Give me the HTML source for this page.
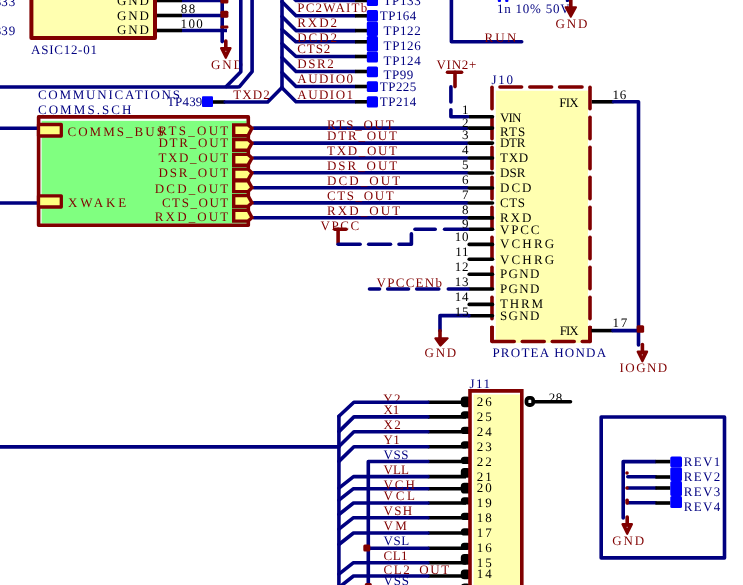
<!DOCTYPE html>
<html><head><meta charset="utf-8"><style>
html,body{margin:0;padding:0;background:#fff;overflow:hidden}
svg{display:block;will-change:transform}
text{font-family:"Liberation Serif",serif;white-space:pre;text-rendering:geometricPrecision}
</style></head><body>
<svg width="743" height="585" viewBox="0 0 743 585">
<rect x="31.40" y="-10.00" width="123.60" height="48.00" fill="#ffffb0"/>
<path d="M31.40,-10.00 L31.40,38.00 L155.00,38.00 L155.00,-10.00" fill="none" stroke="#800000" stroke-width="4" stroke-linecap="butt" stroke-linejoin="round"/>
<path d="M157.00,0.50 L182.00,0.50" fill="none" stroke="#000000" stroke-width="3.6" stroke-linecap="butt" stroke-linejoin="round"/>
<path d="M182.00,0.50 L227.00,0.50" fill="none" stroke="#000080" stroke-width="3.6" stroke-linecap="butt" stroke-linejoin="round"/>
<path d="M157.00,15.50 L182.00,15.50" fill="none" stroke="#000000" stroke-width="3.6" stroke-linecap="butt" stroke-linejoin="round"/>
<path d="M182.00,15.50 L227.00,15.50" fill="none" stroke="#000080" stroke-width="3.6" stroke-linecap="butt" stroke-linejoin="round"/>
<path d="M157.00,30.50 L182.00,30.50" fill="none" stroke="#000000" stroke-width="3.6" stroke-linecap="butt" stroke-linejoin="round"/>
<path d="M182.00,30.50 L227.00,30.50" fill="none" stroke="#000080" stroke-width="3.6" stroke-linecap="butt" stroke-linejoin="round"/>
<path d="M222.20,-5.00 L222.20,41.60" fill="none" stroke="#000080" stroke-width="3.6" stroke-linecap="round" stroke-linejoin="round"/>
<rect x="220.40" y="-2.50" width="8.00" height="6.00" fill="#800000" rx="1.5"/>
<rect x="220.40" y="10.70" width="8.00" height="7.00" fill="#800000" rx="1.5"/>
<rect x="220.40" y="25.50" width="8.00" height="3.00" fill="#800000" rx="1.2"/>
<path d="M225.80,41.00 L225.80,49.00" fill="none" stroke="#800000" stroke-width="3.6" stroke-linecap="round" stroke-linejoin="round"/>
<polygon points="221.10,48.20 230.50,48.20 225.80,57.80" fill="#800000" stroke="#800000" stroke-width="2.2" stroke-linejoin="round"/>
<rect x="225.20" y="50.80" width="1.2" height="1.1" fill="#fff" opacity="0.6"/>
<text x="211.00" y="68.50" fill="#800000" font-size="13" textLength="32.00" lengthAdjust="spacing">GND</text>
<path d="M240.80,-5.00 L240.80,71.70 L226.30,86.40" fill="none" stroke="#000080" stroke-width="3.6" stroke-linecap="round" stroke-linejoin="round"/>
<path d="M252.10,-5.00 L252.10,71.70 L239.50,86.60" fill="none" stroke="#000080" stroke-width="3.6" stroke-linecap="round" stroke-linejoin="round"/>
<path d="M-5.00,87.00 L238.00,87.00" fill="none" stroke="#000080" stroke-width="3.6" stroke-linecap="round" stroke-linejoin="round"/>
<path d="M213.00,102.00 L225.20,102.00" fill="none" stroke="#000000" stroke-width="3.6" stroke-linecap="butt" stroke-linejoin="round"/>
<path d="M225.20,102.00 L267.70,102.00 L282.00,87.50" fill="none" stroke="#000080" stroke-width="3.6" stroke-linecap="round" stroke-linejoin="round"/>
<rect x="202.00" y="96.30" width="11.00" height="10.70" fill="#0000ff" rx="1"/>
<path d="M282.00,-5.00 L282.00,87.50" fill="none" stroke="#000080" stroke-width="3.6" stroke-linecap="round" stroke-linejoin="round"/>
<path d="M282.00,-13.50 L296.00,0.50 L355.00,0.50" fill="none" stroke="#000080" stroke-width="3.6" stroke-linecap="round" stroke-linejoin="round"/>
<path d="M355.00,0.50 L367.00,0.50" fill="none" stroke="#000000" stroke-width="3.6" stroke-linecap="butt" stroke-linejoin="round"/>
<path d="M282.00,1.80 L296.00,15.80 L355.00,15.80" fill="none" stroke="#000080" stroke-width="3.6" stroke-linecap="round" stroke-linejoin="round"/>
<path d="M355.00,15.80 L367.00,15.80" fill="none" stroke="#000000" stroke-width="3.6" stroke-linecap="butt" stroke-linejoin="round"/>
<path d="M282.00,16.60 L296.00,30.60 L355.00,30.60" fill="none" stroke="#000080" stroke-width="3.6" stroke-linecap="round" stroke-linejoin="round"/>
<path d="M355.00,30.60 L367.00,30.60" fill="none" stroke="#000000" stroke-width="3.6" stroke-linecap="butt" stroke-linejoin="round"/>
<path d="M282.00,29.50 L296.00,41.80 L355.00,41.80" fill="none" stroke="#000080" stroke-width="3.6" stroke-linecap="round" stroke-linejoin="round"/>
<path d="M355.00,41.80 L367.00,41.80" fill="none" stroke="#000000" stroke-width="3.6" stroke-linecap="butt" stroke-linejoin="round"/>
<path d="M282.00,43.50 L296.00,56.50 L355.00,56.50" fill="none" stroke="#000080" stroke-width="3.6" stroke-linecap="round" stroke-linejoin="round"/>
<path d="M355.00,56.50 L367.00,56.50" fill="none" stroke="#000000" stroke-width="3.6" stroke-linecap="butt" stroke-linejoin="round"/>
<path d="M282.00,57.50 L296.00,71.50 L355.00,71.50" fill="none" stroke="#000080" stroke-width="3.6" stroke-linecap="round" stroke-linejoin="round"/>
<path d="M355.00,71.50 L367.00,71.50" fill="none" stroke="#000000" stroke-width="3.6" stroke-linecap="butt" stroke-linejoin="round"/>
<path d="M282.00,72.50 L296.00,86.50 L355.00,86.50" fill="none" stroke="#000080" stroke-width="3.6" stroke-linecap="round" stroke-linejoin="round"/>
<path d="M355.00,86.50 L367.00,86.50" fill="none" stroke="#000000" stroke-width="3.6" stroke-linecap="butt" stroke-linejoin="round"/>
<path d="M282.00,87.80 L296.00,101.80 L355.00,101.80" fill="none" stroke="#000080" stroke-width="3.6" stroke-linecap="round" stroke-linejoin="round"/>
<path d="M355.00,101.80 L367.00,101.80" fill="none" stroke="#000000" stroke-width="3.6" stroke-linecap="butt" stroke-linejoin="round"/>
<rect x="366.80" y="-5.00" width="11.20" height="11.00" fill="#0000ff" rx="1.5"/>
<rect x="366.80" y="10.00" width="11.20" height="11.40" fill="#0000ff" rx="1.5"/>
<rect x="366.80" y="21.40" width="11.20" height="14.60" fill="#0000ff" rx="1.5"/>
<rect x="366.80" y="36.00" width="11.20" height="15.40" fill="#0000ff" rx="1.5"/>
<rect x="366.80" y="51.40" width="11.20" height="11.20" fill="#0000ff" rx="1.5"/>
<rect x="366.80" y="66.40" width="11.20" height="10.80" fill="#0000ff" rx="1.5"/>
<rect x="366.80" y="81.30" width="11.20" height="10.70" fill="#0000ff" rx="1.5"/>
<rect x="366.80" y="96.20" width="11.20" height="11.20" fill="#0000ff" rx="1.5"/>
<path d="M451.40,-5.00 L451.40,41.70 L521.70,41.70" fill="none" stroke="#000080" stroke-width="3.6" stroke-linecap="round" stroke-linejoin="round"/>
<rect x="497.80" y="-2.00" width="3.20" height="4.00" fill="#0000ff" rx="1"/>
<rect x="505.20" y="-2.00" width="3.20" height="4.00" fill="#0000ff" rx="1"/>
<rect x="565.80" y="-2.00" width="3.20" height="4.00" fill="#000080" rx="1"/>
<text x="496.90" y="12.50" fill="#000080" font-size="13" textLength="72.80" lengthAdjust="spacing">1n 10% 50V</text>
<path d="M570.80,-3.00 L570.80,8.00" fill="none" stroke="#800000" stroke-width="3.6" stroke-linecap="round" stroke-linejoin="round"/>
<polygon points="565.60,7.20 576.00,7.20 570.80,16.80" fill="#800000" stroke="#800000" stroke-width="2" stroke-linejoin="round"/>
<rect x="41.60" y="120.80" width="204.90" height="102.80" fill="#80ff80"/>
<path d="M38.60,116.90 L248.30,116.90 L248.30,225.30 L38.60,225.30 Z" fill="none" stroke="#800000" stroke-width="3.6" stroke-linecap="butt" stroke-linejoin="round"/>
<path d="M-5.00,128.20 L37.00,128.20" fill="none" stroke="#000080" stroke-width="3.6" stroke-linecap="round" stroke-linejoin="round"/>
<rect x="38.50" y="124.50" width="22.80" height="11.50" fill="#ffff80" stroke="#800000" stroke-width="3.3" stroke-linejoin="round"/>
<path d="M-5.00,203.00 L37.00,203.00" fill="none" stroke="#000080" stroke-width="3.6" stroke-linecap="round" stroke-linejoin="round"/>
<rect x="38.50" y="195.80" width="22.80" height="11.20" fill="#ffff80" stroke="#800000" stroke-width="3.3" stroke-linejoin="round"/>
<path d="M253.70,128.10 L467.50,128.10" fill="none" stroke="#000080" stroke-width="3.6" stroke-linecap="round" stroke-linejoin="round"/>
<path d="M253.70,143.10 L467.50,143.10" fill="none" stroke="#000080" stroke-width="3.6" stroke-linecap="round" stroke-linejoin="round"/>
<path d="M253.70,158.00 L467.50,158.00" fill="none" stroke="#000080" stroke-width="3.6" stroke-linecap="round" stroke-linejoin="round"/>
<path d="M253.70,172.80 L467.50,172.80" fill="none" stroke="#000080" stroke-width="3.6" stroke-linecap="round" stroke-linejoin="round"/>
<path d="M253.70,187.70 L467.50,187.70" fill="none" stroke="#000080" stroke-width="3.6" stroke-linecap="round" stroke-linejoin="round"/>
<path d="M253.70,202.90 L467.50,202.90" fill="none" stroke="#000080" stroke-width="3.6" stroke-linecap="round" stroke-linejoin="round"/>
<path d="M253.70,217.70 L467.50,217.70" fill="none" stroke="#000080" stroke-width="3.6" stroke-linecap="round" stroke-linejoin="round"/>
<polygon points="233.70,124.90 248.00,124.90 252.00,128.10 248.00,135.70 233.70,135.70" fill="#ffff80" stroke="#800000" stroke-width="3.4" stroke-linejoin="miter"/>
<polygon points="233.70,139.50 248.00,139.50 252.00,143.10 248.00,150.30 233.70,150.30" fill="#ffff80" stroke="#800000" stroke-width="3.4" stroke-linejoin="miter"/>
<polygon points="233.70,154.40 248.00,154.40 252.00,158.00 248.00,165.20 233.70,165.20" fill="#ffff80" stroke="#800000" stroke-width="3.4" stroke-linejoin="miter"/>
<polygon points="233.70,169.10 248.00,169.10 252.00,172.80 248.00,179.90 233.70,179.90" fill="#ffff80" stroke="#800000" stroke-width="3.4" stroke-linejoin="miter"/>
<polygon points="233.70,180.80 248.00,180.80 252.00,187.70 248.00,191.60 233.70,191.60" fill="#ffff80" stroke="#800000" stroke-width="3.4" stroke-linejoin="miter"/>
<polygon points="233.70,195.60 248.00,195.60 252.00,202.90 248.00,206.40 233.70,206.40" fill="#ffff80" stroke="#800000" stroke-width="3.4" stroke-linejoin="miter"/>
<polygon points="233.70,210.30 248.00,210.30 252.00,217.70 248.00,221.10 233.70,221.10" fill="#ffff80" stroke="#800000" stroke-width="3.4" stroke-linejoin="miter"/>
<rect x="495.80" y="90.70" width="92.20" height="252.10" fill="#ffffb0"/>
<path d="M492.00,87.30 L492.00,108.70" fill="none" stroke="#800000" stroke-width="3.6" stroke-linecap="round" stroke-linejoin="round"/>
<path d="M590.00,87.30 L590.00,108.70" fill="none" stroke="#800000" stroke-width="3.6" stroke-linecap="round" stroke-linejoin="round"/>
<path d="M492.00,117.30 L492.00,138.70" fill="none" stroke="#800000" stroke-width="3.6" stroke-linecap="round" stroke-linejoin="round"/>
<path d="M590.00,117.30 L590.00,138.70" fill="none" stroke="#800000" stroke-width="3.6" stroke-linecap="round" stroke-linejoin="round"/>
<path d="M492.00,147.30 L492.00,168.70" fill="none" stroke="#800000" stroke-width="3.6" stroke-linecap="round" stroke-linejoin="round"/>
<path d="M590.00,147.30 L590.00,168.70" fill="none" stroke="#800000" stroke-width="3.6" stroke-linecap="round" stroke-linejoin="round"/>
<path d="M492.00,177.30 L492.00,198.70" fill="none" stroke="#800000" stroke-width="3.6" stroke-linecap="round" stroke-linejoin="round"/>
<path d="M590.00,177.30 L590.00,198.70" fill="none" stroke="#800000" stroke-width="3.6" stroke-linecap="round" stroke-linejoin="round"/>
<path d="M492.00,207.30 L492.00,228.70" fill="none" stroke="#800000" stroke-width="3.6" stroke-linecap="round" stroke-linejoin="round"/>
<path d="M590.00,207.30 L590.00,228.70" fill="none" stroke="#800000" stroke-width="3.6" stroke-linecap="round" stroke-linejoin="round"/>
<path d="M492.00,237.30 L492.00,258.70" fill="none" stroke="#800000" stroke-width="3.6" stroke-linecap="round" stroke-linejoin="round"/>
<path d="M590.00,237.30 L590.00,258.70" fill="none" stroke="#800000" stroke-width="3.6" stroke-linecap="round" stroke-linejoin="round"/>
<path d="M492.00,267.30 L492.00,288.70" fill="none" stroke="#800000" stroke-width="3.6" stroke-linecap="round" stroke-linejoin="round"/>
<path d="M590.00,267.30 L590.00,288.70" fill="none" stroke="#800000" stroke-width="3.6" stroke-linecap="round" stroke-linejoin="round"/>
<path d="M492.00,297.30 L492.00,318.70" fill="none" stroke="#800000" stroke-width="3.6" stroke-linecap="round" stroke-linejoin="round"/>
<path d="M590.00,297.30 L590.00,318.70" fill="none" stroke="#800000" stroke-width="3.6" stroke-linecap="round" stroke-linejoin="round"/>
<path d="M492.00,327.30 L492.00,341.50" fill="none" stroke="#800000" stroke-width="3.6" stroke-linecap="round" stroke-linejoin="round"/>
<path d="M590.00,327.30 L590.00,341.50" fill="none" stroke="#800000" stroke-width="3.6" stroke-linecap="round" stroke-linejoin="round"/>
<path d="M492.30,341.50 L514.20,341.50" fill="none" stroke="#800000" stroke-width="3.6" stroke-linecap="round" stroke-linejoin="round"/>
<path d="M522.30,341.50 L544.20,341.50" fill="none" stroke="#800000" stroke-width="3.6" stroke-linecap="round" stroke-linejoin="round"/>
<path d="M552.30,341.50 L574.20,341.50" fill="none" stroke="#800000" stroke-width="3.6" stroke-linecap="round" stroke-linejoin="round"/>
<path d="M582.30,341.50 L590.00,341.50" fill="none" stroke="#800000" stroke-width="3.6" stroke-linecap="round" stroke-linejoin="round"/>
<path d="M492.00,341.50 L492.00,326.00" fill="none" stroke="#800000" stroke-width="3.6" stroke-linecap="butt" stroke-linejoin="round"/>
<path d="M590.00,341.50 L590.00,326.00" fill="none" stroke="#800000" stroke-width="3.6" stroke-linecap="butt" stroke-linejoin="round"/>
<path d="M500.00,87.00 L521.60,87.00" fill="none" stroke="#800000" stroke-width="3.6" stroke-linecap="round" stroke-linejoin="round"/>
<path d="M529.80,87.00 L551.60,87.00" fill="none" stroke="#800000" stroke-width="3.6" stroke-linecap="round" stroke-linejoin="round"/>
<path d="M559.60,87.00 L582.00,87.00" fill="none" stroke="#800000" stroke-width="3.6" stroke-linecap="round" stroke-linejoin="round"/>
<path d="M469.20,116.70 L492.50,116.70" fill="none" stroke="#000000" stroke-width="3.6" stroke-linecap="round" stroke-linejoin="round"/>
<path d="M469.20,128.10 L492.50,128.10" fill="none" stroke="#000000" stroke-width="3.6" stroke-linecap="round" stroke-linejoin="round"/>
<path d="M469.20,143.10 L492.50,143.10" fill="none" stroke="#000000" stroke-width="3.6" stroke-linecap="round" stroke-linejoin="round"/>
<path d="M469.20,158.00 L492.50,158.00" fill="none" stroke="#000000" stroke-width="3.6" stroke-linecap="round" stroke-linejoin="round"/>
<path d="M469.20,173.00 L492.50,173.00" fill="none" stroke="#000000" stroke-width="3.6" stroke-linecap="round" stroke-linejoin="round"/>
<path d="M469.20,188.00 L492.50,188.00" fill="none" stroke="#000000" stroke-width="3.6" stroke-linecap="round" stroke-linejoin="round"/>
<path d="M469.20,203.00 L492.50,203.00" fill="none" stroke="#000000" stroke-width="3.6" stroke-linecap="round" stroke-linejoin="round"/>
<path d="M469.20,217.90 L492.50,217.90" fill="none" stroke="#000000" stroke-width="3.6" stroke-linecap="round" stroke-linejoin="round"/>
<path d="M469.20,229.30 L492.50,229.30" fill="none" stroke="#000000" stroke-width="3.6" stroke-linecap="round" stroke-linejoin="round"/>
<path d="M469.20,244.40 L492.50,244.40" fill="none" stroke="#000000" stroke-width="3.6" stroke-linecap="round" stroke-linejoin="round"/>
<path d="M469.20,259.20 L492.50,259.20" fill="none" stroke="#000000" stroke-width="3.6" stroke-linecap="round" stroke-linejoin="round"/>
<path d="M469.20,274.20 L492.50,274.20" fill="none" stroke="#000000" stroke-width="3.6" stroke-linecap="round" stroke-linejoin="round"/>
<path d="M469.20,289.00 L492.50,289.00" fill="none" stroke="#000000" stroke-width="3.6" stroke-linecap="round" stroke-linejoin="round"/>
<path d="M469.20,304.40 L492.50,304.40" fill="none" stroke="#000000" stroke-width="3.6" stroke-linecap="round" stroke-linejoin="round"/>
<path d="M469.20,315.70 L492.50,315.70" fill="none" stroke="#000000" stroke-width="3.6" stroke-linecap="round" stroke-linejoin="round"/>
<path d="M447.50,72.20 L461.60,72.20" fill="none" stroke="#800000" stroke-width="3.6" stroke-linecap="round" stroke-linejoin="round"/>
<path d="M455.00,72.20 L455.00,86.60" fill="none" stroke="#800000" stroke-width="3.6" stroke-linecap="round" stroke-linejoin="round"/>
<path d="M450.90,86.90 L450.90,101.90" fill="none" stroke="#000080" stroke-width="3.6" stroke-linecap="round" stroke-linejoin="round"/>
<path d="M450.90,109.70 L450.90,116.70 L467.50,116.70" fill="none" stroke="#000080" stroke-width="3.6" stroke-linecap="round" stroke-linejoin="round"/>
<path d="M334.70,229.20 L346.00,229.20" fill="none" stroke="#800000" stroke-width="3.6" stroke-linecap="round" stroke-linejoin="round"/>
<path d="M338.10,229.20 L338.10,243.00" fill="none" stroke="#800000" stroke-width="3.6" stroke-linecap="round" stroke-linejoin="round"/>
<path d="M338.10,244.30 L360.10,244.30" fill="none" stroke="#000080" stroke-width="3.6" stroke-linecap="round" stroke-linejoin="round"/>
<path d="M368.70,244.30 L390.50,244.30" fill="none" stroke="#000080" stroke-width="3.6" stroke-linecap="round" stroke-linejoin="round"/>
<path d="M399.00,244.30 L411.40,244.30 L411.40,233.90" fill="none" stroke="#000080" stroke-width="3.6" stroke-linecap="round" stroke-linejoin="round"/>
<path d="M415.00,229.20 L435.20,229.20" fill="none" stroke="#000080" stroke-width="3.6" stroke-linecap="round" stroke-linejoin="round"/>
<path d="M444.60,229.20 L467.50,229.20" fill="none" stroke="#000080" stroke-width="3.6" stroke-linecap="round" stroke-linejoin="round"/>
<path d="M369.50,289.00 L379.50,289.00" fill="none" stroke="#000080" stroke-width="3.6" stroke-linecap="round" stroke-linejoin="round"/>
<path d="M387.70,289.00 L408.50,289.00" fill="none" stroke="#000080" stroke-width="3.6" stroke-linecap="round" stroke-linejoin="round"/>
<path d="M416.70,289.00 L438.80,289.00" fill="none" stroke="#000080" stroke-width="3.6" stroke-linecap="round" stroke-linejoin="round"/>
<path d="M448.30,289.00 L468.00,289.00" fill="none" stroke="#000080" stroke-width="3.6" stroke-linecap="round" stroke-linejoin="round"/>
<path d="M469.00,315.60 L440.00,315.60 L440.00,330.80" fill="none" stroke="#000080" stroke-width="3.6" stroke-linecap="round" stroke-linejoin="round"/>
<path d="M440.00,330.80 L440.00,338.00" fill="none" stroke="#800000" stroke-width="3.6" stroke-linecap="round" stroke-linejoin="round"/>
<polygon points="435.40,338.30 447.60,338.30 440.50,345.50" fill="#800000" stroke="#800000" stroke-width="2.2" stroke-linejoin="round"/>
<path d="M591.80,101.80 L613.50,101.80" fill="none" stroke="#000000" stroke-width="3.6" stroke-linecap="butt" stroke-linejoin="round"/>
<path d="M613.50,101.80 L638.50,101.80 L638.50,345.00" fill="none" stroke="#000080" stroke-width="3.6" stroke-linecap="round" stroke-linejoin="round"/>
<path d="M591.40,330.60 L613.00,330.60" fill="none" stroke="#000000" stroke-width="3.6" stroke-linecap="butt" stroke-linejoin="round"/>
<path d="M613.00,330.60 L638.50,330.60" fill="none" stroke="#000080" stroke-width="3.6" stroke-linecap="round" stroke-linejoin="round"/>
<rect x="636.65" y="325.35" width="7.50" height="7.50" fill="#800000" rx="1.5"/>
<path d="M642.40,344.50 L642.40,352.50" fill="none" stroke="#800000" stroke-width="3.6" stroke-linecap="round" stroke-linejoin="round"/>
<polygon points="637.70,351.70 647.10,351.70 642.40,361.30" fill="#800000" stroke="#800000" stroke-width="2.2" stroke-linejoin="round"/>
<rect x="641.80" y="354.30" width="1.2" height="1.1" fill="#fff" opacity="0.6"/>
<text x="383.20" y="402.60" fill="#800000" font-size="13" textLength="17.20" lengthAdjust="spacing">Y2</text>
<text x="383.50" y="573.70" fill="#800000" font-size="13" textLength="65.60" lengthAdjust="spacing">CL2_OUT</text>
<rect x="473.60" y="394.50" width="46.70" height="205.50" fill="#ffffb0"/>
<path d="M427.90,402.20 L466.00,402.20" fill="none" stroke="#000000" stroke-width="3.6" stroke-linecap="butt" stroke-linejoin="round"/>
<path d="M427.90,416.90 L466.00,416.90" fill="none" stroke="#000000" stroke-width="3.6" stroke-linecap="butt" stroke-linejoin="round"/>
<path d="M427.90,431.80 L466.00,431.80" fill="none" stroke="#000000" stroke-width="3.6" stroke-linecap="butt" stroke-linejoin="round"/>
<path d="M427.90,446.70 L466.00,446.70" fill="none" stroke="#000000" stroke-width="3.6" stroke-linecap="butt" stroke-linejoin="round"/>
<path d="M427.90,461.50 L466.00,461.50" fill="none" stroke="#000000" stroke-width="3.6" stroke-linecap="butt" stroke-linejoin="round"/>
<path d="M427.90,476.60 L466.00,476.60" fill="none" stroke="#000000" stroke-width="3.6" stroke-linecap="butt" stroke-linejoin="round"/>
<path d="M427.90,488.70 L466.00,488.70" fill="none" stroke="#000000" stroke-width="3.6" stroke-linecap="butt" stroke-linejoin="round"/>
<path d="M427.90,503.00 L466.00,503.00" fill="none" stroke="#000000" stroke-width="3.6" stroke-linecap="butt" stroke-linejoin="round"/>
<path d="M427.90,517.70 L466.00,517.70" fill="none" stroke="#000000" stroke-width="3.6" stroke-linecap="butt" stroke-linejoin="round"/>
<path d="M427.90,533.00 L466.00,533.00" fill="none" stroke="#000000" stroke-width="3.6" stroke-linecap="butt" stroke-linejoin="round"/>
<path d="M427.90,548.20 L466.00,548.20" fill="none" stroke="#000000" stroke-width="3.6" stroke-linecap="butt" stroke-linejoin="round"/>
<path d="M427.90,562.70 L466.00,562.70" fill="none" stroke="#000000" stroke-width="3.6" stroke-linecap="butt" stroke-linejoin="round"/>
<path d="M427.90,576.00 L466.00,576.00" fill="none" stroke="#000000" stroke-width="3.6" stroke-linecap="butt" stroke-linejoin="round"/>
<rect x="460.8" y="396.60" width="10" height="10.60" rx="3.6" ry="3.6" fill="#000000"/>
<rect x="460.8" y="411.20" width="10" height="7.30" rx="3.6" ry="3.6" fill="#000000"/>
<rect x="460.8" y="426.70" width="10" height="7.30" rx="3.6" ry="3.6" fill="#000000"/>
<rect x="460.8" y="441.30" width="10" height="7.30" rx="3.6" ry="3.6" fill="#000000"/>
<rect x="460.8" y="456.70" width="10" height="7.30" rx="3.6" ry="3.6" fill="#000000"/>
<rect x="460.8" y="468.10" width="10" height="9.70" rx="3.6" ry="3.6" fill="#000000"/>
<rect x="460.8" y="482.70" width="10" height="10.80" rx="3.6" ry="3.6" fill="#000000"/>
<rect x="460.8" y="497.30" width="10" height="7.30" rx="3.6" ry="3.6" fill="#000000"/>
<rect x="460.8" y="512.70" width="10" height="7.30" rx="3.6" ry="3.6" fill="#000000"/>
<rect x="460.8" y="528.20" width="10" height="7.30" rx="3.6" ry="3.6" fill="#000000"/>
<rect x="460.8" y="542.80" width="10" height="7.30" rx="3.6" ry="3.6" fill="#000000"/>
<rect x="460.8" y="554.10" width="10" height="10.60" rx="3.6" ry="3.6" fill="#000000"/>
<rect x="460.8" y="569.60" width="10" height="9.70" rx="3.6" ry="3.6" fill="#000000"/>
<rect x="460.8" y="583.40" width="10" height="8.60" rx="3.6" ry="3.6" fill="#000000"/>
<path d="M470.00,600.00 L470.00,390.90 L521.80,390.90 L521.80,600.00" fill="none" stroke="#800000" stroke-width="3.6" stroke-linecap="butt" stroke-linejoin="miter"/>
<path d="M338.90,416.20 L353.90,402.20 L427.90,402.20" fill="none" stroke="#000080" stroke-width="3.6" stroke-linecap="round" stroke-linejoin="round"/>
<path d="M338.90,431.60 L353.90,416.90 L427.90,416.90" fill="none" stroke="#000080" stroke-width="3.6" stroke-linecap="round" stroke-linejoin="round"/>
<path d="M338.90,446.50 L353.90,431.80 L427.90,431.80" fill="none" stroke="#000080" stroke-width="3.6" stroke-linecap="round" stroke-linejoin="round"/>
<path d="M338.90,461.40 L353.90,446.70 L427.90,446.70" fill="none" stroke="#000080" stroke-width="3.6" stroke-linecap="round" stroke-linejoin="round"/>
<path d="M338.90,416.20 L338.90,600.00" fill="none" stroke="#000080" stroke-width="3.6" stroke-linecap="round" stroke-linejoin="round"/>
<path d="M-5.00,446.90 L338.90,446.90" fill="none" stroke="#000080" stroke-width="3.6" stroke-linecap="round" stroke-linejoin="round"/>
<path d="M368.30,600.00 L368.30,461.50 L427.90,461.50" fill="none" stroke="#000080" stroke-width="3.6" stroke-linecap="round" stroke-linejoin="round"/>
<path d="M338.90,488.10 L353.50,476.60 L427.90,476.60" fill="none" stroke="#000080" stroke-width="3.6" stroke-linecap="round" stroke-linejoin="round"/>
<path d="M338.90,500.20 L353.50,488.70 L427.90,488.70" fill="none" stroke="#000080" stroke-width="3.6" stroke-linecap="round" stroke-linejoin="round"/>
<path d="M338.90,514.50 L353.50,503.00 L427.90,503.00" fill="none" stroke="#000080" stroke-width="3.6" stroke-linecap="round" stroke-linejoin="round"/>
<path d="M338.90,529.20 L353.50,517.70 L427.90,517.70" fill="none" stroke="#000080" stroke-width="3.6" stroke-linecap="round" stroke-linejoin="round"/>
<path d="M338.90,544.50 L353.50,533.00 L427.90,533.00" fill="none" stroke="#000080" stroke-width="3.6" stroke-linecap="round" stroke-linejoin="round"/>
<path d="M338.90,574.20 L353.50,562.70 L427.90,562.70" fill="none" stroke="#000080" stroke-width="3.6" stroke-linecap="round" stroke-linejoin="round"/>
<path d="M338.90,587.50 L353.50,576.00 L427.90,576.00" fill="none" stroke="#000080" stroke-width="3.6" stroke-linecap="round" stroke-linejoin="round"/>
<path d="M368.30,548.20 L427.90,548.20" fill="none" stroke="#000080" stroke-width="3.6" stroke-linecap="round" stroke-linejoin="round"/>
<rect x="363.30" y="544.50" width="7.00" height="7.00" fill="#800000" rx="1.5"/>
<rect x="364.80" y="583.00" width="7.00" height="6.00" fill="#800000" rx="1.5"/>
<rect x="526.5" y="397.8" width="6.7" height="7.2" rx="2.6" fill="none" stroke="#000000" stroke-width="3.8"/>
<path d="M535.00,401.70 L570.50,401.70" fill="none" stroke="#000000" stroke-width="3.6" stroke-linecap="round" stroke-linejoin="round"/>
<path d="M601.20,417.00 L724.50,417.00 L724.50,557.90 L601.20,557.90 Z" fill="none" stroke="#000080" stroke-width="3.6" stroke-linecap="butt" stroke-linejoin="round"/>
<path d="M623.20,518.00 L623.20,461.60 L655.40,461.60" fill="none" stroke="#000080" stroke-width="3.6" stroke-linecap="round" stroke-linejoin="round"/>
<path d="M627.80,476.80 L655.40,476.80" fill="none" stroke="#000080" stroke-width="3.6" stroke-linecap="round" stroke-linejoin="round"/>
<path d="M627.80,488.00 L655.40,488.00" fill="none" stroke="#000080" stroke-width="3.6" stroke-linecap="round" stroke-linejoin="round"/>
<path d="M627.80,502.80 L655.40,502.80" fill="none" stroke="#000080" stroke-width="3.6" stroke-linecap="round" stroke-linejoin="round"/>
<path d="M655.40,461.60 L670.30,461.60" fill="none" stroke="#000000" stroke-width="3.6" stroke-linecap="butt" stroke-linejoin="round"/>
<path d="M655.40,477.00 L670.30,477.00" fill="none" stroke="#000000" stroke-width="3.6" stroke-linecap="butt" stroke-linejoin="round"/>
<path d="M655.40,488.00 L670.30,488.00" fill="none" stroke="#000000" stroke-width="3.6" stroke-linecap="butt" stroke-linejoin="round"/>
<path d="M655.40,503.00 L670.30,503.00" fill="none" stroke="#000000" stroke-width="3.6" stroke-linecap="butt" stroke-linejoin="round"/>
<rect x="670.30" y="456.50" width="11.70" height="10.80" fill="#0000ff" rx="1.5"/>
<rect x="670.30" y="467.30" width="11.70" height="13.80" fill="#0000ff" rx="1.5"/>
<rect x="670.30" y="481.10" width="11.70" height="14.90" fill="#0000ff" rx="1.5"/>
<rect x="670.30" y="496.00" width="11.70" height="12.10" fill="#0000ff" rx="1.5"/>
<circle cx="627" cy="473" r="1.8" fill="#800000"/>
<circle cx="627" cy="488" r="1.8" fill="#800000"/>
<rect x="625.30" y="498.60" width="3.60" height="6.10" fill="#800000" rx="1.6"/>
<path d="M627.20,517.00 L627.20,525.00" fill="none" stroke="#800000" stroke-width="3.6" stroke-linecap="round" stroke-linejoin="round"/>
<polygon points="622.50,524.20 631.90,524.20 627.20,533.80" fill="#800000" stroke="#800000" stroke-width="2.2" stroke-linejoin="round"/>
<rect x="626.60" y="526.80" width="1.2" height="1.1" fill="#fff" opacity="0.6"/>
<text x="1.30" y="5.50" fill="#000080" font-size="13" textLength="14.00" lengthAdjust="spacing">33</text>
<text x="-5.30" y="5.50" fill="#000080" font-size="13">3</text>
<text x="1.30" y="35.10" fill="#000080" font-size="13" textLength="14.00" lengthAdjust="spacing">39</text>
<text x="-5.30" y="35.10" fill="#000080" font-size="13">3</text>
<text x="117.00" y="5.40" fill="#000000" font-size="13" textLength="32.00" lengthAdjust="spacing">GND</text>
<text x="117.00" y="20.20" fill="#000000" font-size="13" textLength="32.00" lengthAdjust="spacing">GND</text>
<text x="117.00" y="34.30" fill="#000000" font-size="13" textLength="32.00" lengthAdjust="spacing">GND</text>
<text x="31.10" y="54.30" fill="#000080" font-size="13" textLength="65.80" lengthAdjust="spacing">ASIC12-01</text>
<text x="180.70" y="12.50" fill="#000000" font-size="13" textLength="14.60" lengthAdjust="spacing">88</text>
<text x="180.50" y="27.70" fill="#000000" font-size="13" textLength="22.30" lengthAdjust="spacing">100</text>
<text x="37.90" y="99.30" fill="#000080" font-size="13" textLength="142.10" lengthAdjust="spacing">COMMUNICATIONS</text>
<text x="37.90" y="113.60" fill="#000080" font-size="13" textLength="93.60" lengthAdjust="spacing">COMMS.SCH</text>
<text x="167.00" y="105.70" fill="#000080" font-size="13" textLength="35.30" lengthAdjust="spacing">TP439</text>
<text x="233.30" y="99.10" fill="#800000" font-size="13" textLength="36.50" lengthAdjust="spacing">TXD2</text>
<text x="297.20" y="12.10" fill="#800000" font-size="13" textLength="70.10" lengthAdjust="spacing">PC2WAITb</text>
<text x="297.20" y="26.90" fill="#800000" font-size="13" textLength="39.80" lengthAdjust="spacing">RXD2</text>
<text x="297.20" y="41.70" fill="#800000" font-size="13" textLength="39.80" lengthAdjust="spacing">DCD2</text>
<text x="297.20" y="53.20" fill="#800000" font-size="13" textLength="33.10" lengthAdjust="spacing">CTS2</text>
<text x="297.20" y="68.00" fill="#800000" font-size="13" textLength="36.50" lengthAdjust="spacing">DSR2</text>
<text x="297.30" y="83.20" fill="#800000" font-size="13" textLength="55.70" lengthAdjust="spacing">AUDIO0</text>
<text x="297.30" y="98.50" fill="#800000" font-size="13" textLength="55.70" lengthAdjust="spacing">AUDIO1</text>
<text x="383.50" y="4.50" fill="#000080" font-size="13" textLength="37.20" lengthAdjust="spacing">TP133</text>
<text x="379.80" y="20.10" fill="#000080" font-size="13" textLength="36.50" lengthAdjust="spacing">TP164</text>
<text x="383.60" y="35.10" fill="#000080" font-size="13" textLength="37.10" lengthAdjust="spacing">TP122</text>
<text x="383.60" y="49.90" fill="#000080" font-size="13" textLength="37.10" lengthAdjust="spacing">TP126</text>
<text x="383.60" y="64.60" fill="#000080" font-size="13" textLength="37.10" lengthAdjust="spacing">TP124</text>
<text x="383.60" y="79.30" fill="#000080" font-size="13" textLength="29.60" lengthAdjust="spacing">TP99</text>
<text x="379.80" y="90.90" fill="#000080" font-size="13" textLength="36.50" lengthAdjust="spacing">TP225</text>
<text x="379.80" y="105.60" fill="#000080" font-size="13" textLength="36.50" lengthAdjust="spacing">TP214</text>
<text x="484.50" y="41.70" fill="#800000" font-size="13" textLength="31.80" lengthAdjust="spacing">RUN</text>
<text x="555.50" y="27.70" fill="#800000" font-size="13" textLength="31.80" lengthAdjust="spacing">GND</text>
<text x="436.50" y="68.50" fill="#800000" font-size="13" textLength="39.80" lengthAdjust="spacing">VIN2+</text>
<text x="491.50" y="83.90" fill="#000080" font-size="13" textLength="21.50" lengthAdjust="spacing">J10</text>
<text x="612.50" y="98.70" fill="#000000" font-size="13" textLength="13.80" lengthAdjust="spacing">16</text>
<text x="559.30" y="106.50" fill="#000000" font-size="13" textLength="19.30" lengthAdjust="spacing">FIX</text>
<text x="67.50" y="135.90" fill="#800000" font-size="13" textLength="96.40" lengthAdjust="spacing">COMMS_BUS</text>
<text x="67.90" y="207.40" fill="#800000" font-size="13" textLength="58.40" lengthAdjust="spacing">XWAKE</text>
<text x="158.20" y="135.10" fill="#800000" font-size="13" textLength="70.10" lengthAdjust="spacing">RTS_OUT</text>
<text x="158.40" y="147.30" fill="#800000" font-size="13" textLength="69.90" lengthAdjust="spacing">DTR_OUT</text>
<text x="158.40" y="162.00" fill="#800000" font-size="13" textLength="69.90" lengthAdjust="spacing">TXD_OUT</text>
<text x="158.40" y="177.30" fill="#800000" font-size="13" textLength="69.90" lengthAdjust="spacing">DSR_OUT</text>
<text x="154.80" y="192.50" fill="#800000" font-size="13" textLength="73.50" lengthAdjust="spacing">DCD_OUT</text>
<text x="161.90" y="206.50" fill="#800000" font-size="13" textLength="66.40" lengthAdjust="spacing">CTS_OUT</text>
<text x="154.80" y="221.20" fill="#800000" font-size="13" textLength="73.50" lengthAdjust="spacing">RXD_OUT</text>
<text x="327.00" y="128.90" fill="#800000" font-size="13" textLength="66.60" lengthAdjust="spacing">RTS_OUT</text>
<text x="327.00" y="140.30" fill="#800000" font-size="13" textLength="70.00" lengthAdjust="spacing">DTR_OUT</text>
<text x="327.00" y="155.10" fill="#800000" font-size="13" textLength="70.00" lengthAdjust="spacing">TXD_OUT</text>
<text x="327.00" y="170.40" fill="#800000" font-size="13" textLength="70.20" lengthAdjust="spacing">DSR_OUT</text>
<text x="327.00" y="184.90" fill="#800000" font-size="13" textLength="73.20" lengthAdjust="spacing">DCD_OUT</text>
<text x="327.00" y="200.10" fill="#800000" font-size="13" textLength="66.60" lengthAdjust="spacing">CTS_OUT</text>
<text x="327.00" y="214.60" fill="#800000" font-size="13" textLength="73.20" lengthAdjust="spacing">RXD_OUT</text>
<text x="320.60" y="229.90" fill="#800000" font-size="13" textLength="38.60" lengthAdjust="spacing">VPCC</text>
<text x="376.50" y="286.50" fill="#800000" font-size="13" textLength="65.50" lengthAdjust="spacing">VPCCENb</text>
<text x="462.00" y="113.60" fill="#000000" font-size="13">1</text>
<text x="462.00" y="127.00" fill="#000000" font-size="13">2</text>
<text x="462.00" y="139.40" fill="#000000" font-size="13">3</text>
<text x="462.00" y="153.60" fill="#000000" font-size="13">4</text>
<text x="462.00" y="169.20" fill="#000000" font-size="13">5</text>
<text x="462.00" y="184.20" fill="#000000" font-size="13">6</text>
<text x="462.00" y="198.70" fill="#000000" font-size="13">7</text>
<text x="462.00" y="213.70" fill="#000000" font-size="13">8</text>
<text x="462.00" y="227.60" fill="#000000" font-size="13">9</text>
<text x="454.70" y="240.70" fill="#000000" font-size="13" textLength="13.80" lengthAdjust="spacing">10</text>
<text x="455.18" y="255.70" fill="#000000" font-size="13" textLength="13.32" lengthAdjust="spacing">11</text>
<text x="454.70" y="271.20" fill="#000000" font-size="13" textLength="13.80" lengthAdjust="spacing">12</text>
<text x="454.70" y="286.00" fill="#000000" font-size="13" textLength="13.80" lengthAdjust="spacing">13</text>
<text x="454.70" y="301.00" fill="#000000" font-size="13" textLength="13.80" lengthAdjust="spacing">14</text>
<text x="454.70" y="316.40" fill="#000000" font-size="13" textLength="13.80" lengthAdjust="spacing">15</text>
<text x="500.00" y="121.50" fill="#000000" font-size="13" textLength="21.50" lengthAdjust="spacing">VIN</text>
<text x="500.00" y="135.70" fill="#000000" font-size="13" textLength="25.30" lengthAdjust="spacing">RTS</text>
<text x="500.00" y="147.00" fill="#000000" font-size="13" textLength="25.30" lengthAdjust="spacing">DTR</text>
<text x="500.00" y="162.00" fill="#000000" font-size="13" textLength="28.10" lengthAdjust="spacing">TXD</text>
<text x="500.00" y="177.30" fill="#000000" font-size="13" textLength="25.30" lengthAdjust="spacing">DSR</text>
<text x="500.00" y="191.70" fill="#000000" font-size="13" textLength="31.50" lengthAdjust="spacing">DCD</text>
<text x="500.00" y="206.70" fill="#000000" font-size="13" textLength="25.00" lengthAdjust="spacing">CTS</text>
<text x="500.00" y="221.90" fill="#000000" font-size="13" textLength="31.30" lengthAdjust="spacing">RXD</text>
<text x="500.00" y="233.70" fill="#000000" font-size="13" textLength="39.30" lengthAdjust="spacing">VPCC</text>
<text x="500.00" y="248.30" fill="#000000" font-size="13" textLength="54.10" lengthAdjust="spacing">VCHRG</text>
<text x="500.00" y="264.00" fill="#000000" font-size="13" textLength="54.10" lengthAdjust="spacing">VCHRG</text>
<text x="500.00" y="278.40" fill="#000000" font-size="13" textLength="39.40" lengthAdjust="spacing">PGND</text>
<text x="500.00" y="293.40" fill="#000000" font-size="13" textLength="39.40" lengthAdjust="spacing">PGND</text>
<text x="500.00" y="308.20" fill="#000000" font-size="13" textLength="43.10" lengthAdjust="spacing">THRM</text>
<text x="500.00" y="319.50" fill="#000000" font-size="13" textLength="39.40" lengthAdjust="spacing">SGND</text>
<text x="559.80" y="335.20" fill="#000000" font-size="13" textLength="18.80" lengthAdjust="spacing">FIX</text>
<text x="612.50" y="327.30" fill="#000000" font-size="13" textLength="14.80" lengthAdjust="spacing">17</text>
<text x="424.60" y="357.10" fill="#800000" font-size="13" textLength="31.60" lengthAdjust="spacing">GND</text>
<text x="492.40" y="357.30" fill="#000080" font-size="13" textLength="113.70" lengthAdjust="spacing">PROTEA HONDA</text>
<text x="619.60" y="372.30" fill="#800000" font-size="13" textLength="47.50" lengthAdjust="spacing">IOGND</text>
<text x="469.40" y="387.90" fill="#000080" font-size="13" textLength="20.70" lengthAdjust="spacing">J11</text>
<text x="548.80" y="401.60" fill="#000000" font-size="13" textLength="13.40" lengthAdjust="spacing">28</text>
<text x="476.70" y="406.20" fill="#000000" font-size="13" textLength="15.00" lengthAdjust="spacing">26</text>
<text x="476.70" y="421.00" fill="#000000" font-size="13" textLength="15.00" lengthAdjust="spacing">25</text>
<text x="476.70" y="435.90" fill="#000000" font-size="13" textLength="15.00" lengthAdjust="spacing">24</text>
<text x="476.70" y="450.70" fill="#000000" font-size="13" textLength="15.00" lengthAdjust="spacing">23</text>
<text x="476.70" y="465.60" fill="#000000" font-size="13" textLength="15.00" lengthAdjust="spacing">22</text>
<text x="476.70" y="480.50" fill="#000000" font-size="13" textLength="15.00" lengthAdjust="spacing">21</text>
<text x="476.70" y="491.90" fill="#000000" font-size="13" textLength="15.00" lengthAdjust="spacing">20</text>
<text x="476.70" y="507.00" fill="#000000" font-size="13" textLength="15.00" lengthAdjust="spacing">19</text>
<text x="476.70" y="522.20" fill="#000000" font-size="13" textLength="15.00" lengthAdjust="spacing">18</text>
<text x="476.70" y="536.50" fill="#000000" font-size="13" textLength="15.00" lengthAdjust="spacing">17</text>
<text x="476.70" y="551.70" fill="#000000" font-size="13" textLength="15.00" lengthAdjust="spacing">16</text>
<text x="476.70" y="566.60" fill="#000000" font-size="13" textLength="15.00" lengthAdjust="spacing">15</text>
<text x="476.70" y="578.40" fill="#000000" font-size="13" textLength="15.00" lengthAdjust="spacing">14</text>
<text x="383.50" y="414.00" fill="#800000" font-size="13" textLength="15.80" lengthAdjust="spacing">X1</text>
<text x="383.50" y="428.70" fill="#800000" font-size="13" textLength="17.20" lengthAdjust="spacing">X2</text>
<text x="383.50" y="443.80" fill="#800000" font-size="13" textLength="16.20" lengthAdjust="spacing">Y1</text>
<text x="383.50" y="459.10" fill="#000080" font-size="13" textLength="25.10" lengthAdjust="spacing">VSS</text>
<text x="383.50" y="473.70" fill="#800000" font-size="13" textLength="25.40" lengthAdjust="spacing">VLL</text>
<text x="383.50" y="488.70" fill="#800000" font-size="13" textLength="31.30" lengthAdjust="spacing">VCH</text>
<text x="383.50" y="500.20" fill="#800000" font-size="13" textLength="31.50" lengthAdjust="spacing">VCL</text>
<text x="383.50" y="514.70" fill="#800000" font-size="13" textLength="28.60" lengthAdjust="spacing">VSH</text>
<text x="383.50" y="529.50" fill="#800000" font-size="13" textLength="23.40" lengthAdjust="spacing">VM</text>
<text x="383.50" y="544.90" fill="#000080" font-size="13" textLength="25.60" lengthAdjust="spacing">VSL</text>
<text x="383.50" y="560.10" fill="#800000" font-size="13" textLength="24.10" lengthAdjust="spacing">CL1</text>
<text x="383.50" y="585.30" fill="#000080" font-size="13" textLength="25.40" lengthAdjust="spacing">VSS</text>
<text x="683.70" y="466.40" fill="#000080" font-size="13" textLength="36.60" lengthAdjust="spacing">REV1</text>
<text x="683.70" y="481.40" fill="#000080" font-size="13" textLength="36.60" lengthAdjust="spacing">REV2</text>
<text x="683.70" y="495.70" fill="#000080" font-size="13" textLength="36.60" lengthAdjust="spacing">REV3</text>
<text x="683.70" y="511.10" fill="#000080" font-size="13" textLength="36.60" lengthAdjust="spacing">REV4</text>
<text x="612.20" y="544.80" fill="#800000" font-size="13" textLength="31.90" lengthAdjust="spacing">GND</text>
</svg>
</body></html>
